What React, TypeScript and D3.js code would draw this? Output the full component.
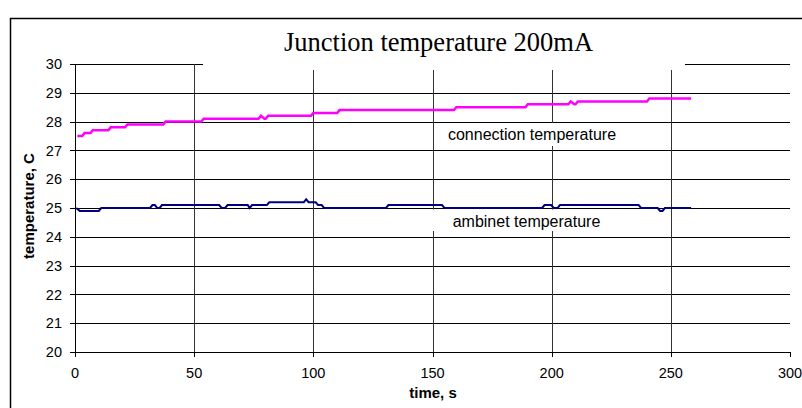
import React from "react";
import * as d3 from "d3";

// connection (junction) temperature, magenta series
const connTime = [1, 3, 4, 6.5, 7.5, 14, 15, 21, 22, 37, 38, 53, 54, 77, 78, 79.5, 80, 81, 99, 100, 110, 111, 159, 160, 189, 190, 207, 208, 209.5, 210, 211, 240, 241, 258.5];
const connTemp = [27.5, 27.5, 27.6, 27.6, 27.7, 27.7, 27.8, 27.8, 27.9, 27.9, 28.0, 28.0, 28.1, 28.1, 28.2, 28.1, 28.1, 28.2, 28.2, 28.3, 28.3, 28.4, 28.4, 28.5, 28.5, 28.6, 28.6, 28.7, 28.6, 28.6, 28.7, 28.7, 28.8, 28.8];

// ambient temperature, navy series
const ambTime = [0.5, 2, 10, 11, 31.5, 32.5, 33.5, 34.5, 35.5, 36.5, 60.5, 61.5, 63, 64, 72.5, 73.3, 74.3, 80.5, 81.5, 96, 97, 98, 101, 102, 103.5, 104.5, 130.5, 131.5, 154, 155, 196, 197, 199.8, 200.8, 202.5, 203.5, 236.5, 237.5, 244.5, 245.5, 246.5, 247.5, 258.5];
const ambTemp = [25.0, 24.9, 24.9, 25.0, 25.0, 25.1, 25.1, 25.0, 25.0, 25.1, 25.1, 25.0, 25.0, 25.1, 25.1, 25.0, 25.1, 25.1, 25.2, 25.2, 25.3, 25.2, 25.2, 25.1, 25.1, 25.0, 25.0, 25.1, 25.1, 25.0, 25.0, 25.1, 25.1, 25.0, 25.0, 25.1, 25.1, 25.0, 25.0, 24.9, 24.9, 25.0, 25.0];

const xTicks = [0, 50, 100, 150, 200, 250, 300];
const yTicks = [20, 21, 22, 23, 24, 25, 26, 27, 28, 29, 30];

const W = 802;
const H = 408;

const App = () => {
	const x = d3.scaleLinear().domain([0, 300]).range([75, 790]);
	const y = d3.scaleLinear().domain([20, 30]).range([352, 64]);
	const px = (v: number) => Math.round(v) + 0.5;

	const line = d3.line<[number, number]>()
		.x(d => x(d[0]))
		.y(d => y(d[1]));

	const conn = connTime.map((t, i) => [t, connTemp[i]] as [number, number]);
	const amb = ambTime.map((t, i) => [t, ambTemp[i]] as [number, number]);

	const sans = "'Liberation Sans', Arial, sans-serif";

	return (
		<svg width={W} height={H} style={{ position: "absolute", left: 0, top: 0, background: "#fff" }}>
			{/* outer chart frame */}
			<rect x={10.5} y={18.5} width={820} height={420} fill="#fff" stroke="#000" strokeWidth={1.5} />

			{/* horizontal gridlines */}
			{yTicks.map(v => (
				<line key={"h" + v} x1={x(0)} x2={x(300)} y1={px(y(v))} y2={px(y(v))} stroke="#000" strokeWidth={1} />
			))}
			{/* vertical gridlines */}
			{xTicks.filter(v => v > 0 && v < 300).map(v => (
				<line key={"v" + v} x1={px(x(v))} x2={px(x(v))} y1={y(30)} y2={y(20)} stroke="#333" strokeWidth={1} />
			))}

			{/* axes */}
			<line x1={px(x(0))} x2={px(x(0))} y1={y(30)} y2={y(20) + 5} stroke="#000" />
			<line x1={x(0) - 5} x2={x(300)} y1={px(y(20))} y2={px(y(20))} stroke="#000" />
			{yTicks.map(v => (
				<line key={"yt" + v} x1={x(0) - 5} x2={x(0)} y1={px(y(v))} y2={px(y(v))} stroke="#000" />
			))}
			{xTicks.map(v => (
				<line key={"xt" + v} x1={px(x(v))} x2={px(x(v))} y1={y(20)} y2={y(20) + 5} stroke="#000" />
			))}

			{/* series */}
			<path d={line(amb) || ""} fill="none" stroke="#000080" strokeWidth={2} />
			<path d={line(conn) || ""} fill="none" stroke="#FF00FF" strokeWidth={2.5} />

			{/* white text boxes covering the grid */}
			<rect x={203} y={20} width={482} height={50} fill="#fff" />
			<rect x={440} y={123} width={185} height={23} fill="#fff" />
			<rect x={425} y={209.5} width={200} height={21.5} fill="#fff" />

			{/* tick labels */}
			<g fontFamily={sans} fontSize={14.5} fill="#000">
				{yTicks.map(v => (
					<text key={"yl" + v} x={62} y={y(v)} dy="0.36em" textAnchor="end">{v}</text>
				))}
				{xTicks.map(v => (
					<text key={"xl" + v} x={x(v)} y={378} textAnchor="middle">{v}</text>
				))}
			</g>

			{/* titles */}
			<text x={438.5} y={51} textAnchor="middle" fontFamily="'Liberation Serif', 'Times New Roman', serif" fontSize={26.5}>
				Junction temperature 200mA
			</text>
			<text x={433} y={398} textAnchor="middle" fontFamily={sans} fontWeight="bold" fontSize={15}>time, s</text>
			<text transform="translate(34,206) rotate(-90)" textAnchor="middle" fontFamily={sans} fontWeight="bold" fontSize={15}>
				temperature, C
			</text>

			{/* series labels */}
			<text x={532} y={140} textAnchor="middle" fontFamily={sans} fontSize={16}>connection temperature</text>
			<text x={526.5} y={227.3} textAnchor="middle" fontFamily={sans} fontSize={16}>ambinet temperature</text>
		</svg>
	);
};

export default App;
